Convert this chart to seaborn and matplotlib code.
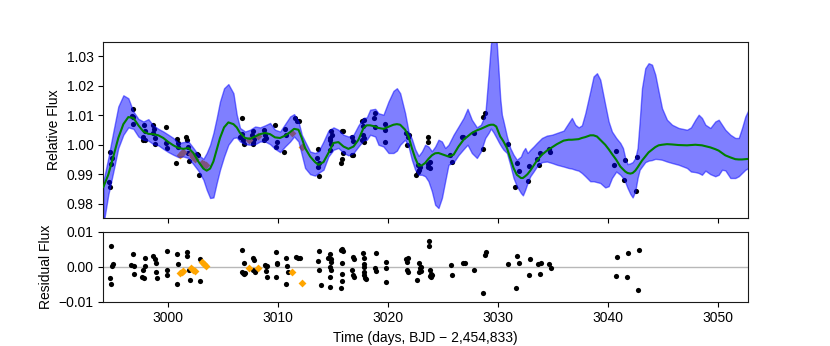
import numpy as np
import pandas as pd
import seaborn as sns
import matplotlib
matplotlib.use('Agg')
import matplotlib.pyplot as plt
from matplotlib.ticker import MultipleLocator

# GP model: time, mean and 1-sigma band
gp_time = [2994.15, 2994.60, 2995.06, 2995.51, 2995.97, 2996.42, 2996.88, 2997.33, 2997.79, 2998.24,
           2998.69, 2999.15, 2999.60, 3000.06, 3000.51, 3000.97, 3001.42, 3001.88, 3002.33, 3002.78,
           3003.24, 3003.54, 3003.85, 3004.15, 3004.45, 3004.75, 3005.12, 3005.51,
           3005.97, 3006.27, 3006.57, 3007.03, 3007.48, 3007.94, 3008.39, 3008.85, 3009.30, 3009.75,
           3010.21, 3010.66, 3011.12, 3011.48, 3011.88, 3012.18, 3012.48, 3012.94, 3013.39, 3013.69,
           3014.15, 3014.60, 3015.06, 3015.51, 3015.97, 3016.42, 3016.88, 3017.33,
           3017.79, 3018.09, 3018.39, 3018.85, 3019.15, 3019.60, 3020.06, 3020.51, 3020.82, 3021.12,
           3021.57, 3021.88, 3022.18, 3022.48, 3022.79, 3023.09, 3023.39, 3023.69, 3024.00, 3024.30,
           3024.60, 3024.91, 3025.21, 3025.51, 3025.97, 3026.42, 3026.88, 3027.24, 3027.63, 3028.09,
           3028.45, 3028.85, 3029.15,
           3029.36, 3029.60, 3029.85, 3030.06, 3030.21, 3030.36, 3030.51, 3030.82, 3031.12, 3031.42,
           3031.72, 3032.09, 3032.27, 3032.48, 3032.69, 3032.94, 3033.24, 3033.54, 3034.00, 3034.45,
           3034.91, 3035.36, 3035.97, 3036.42, 3036.72, 3037.03, 3037.33, 3037.63, 3037.94, 3038.39,
           3038.69, 3039.00, 3039.30, 3039.75, 3040.06, 3040.36, 3040.75, 3041.12,
           3041.36, 3041.57, 3041.78, 3042.03, 3042.24, 3042.48, 3042.69, 3042.88, 3043.09, 3043.39,
           3043.69, 3044.00, 3044.30, 3044.60, 3044.91, 3045.36, 3045.82, 3046.42, 3047.18, 3047.54,
           3047.94, 3048.24, 3048.54, 3048.85, 3049.30, 3049.75, 3050.06, 3050.36, 3050.66, 3051.12,
           3051.57, 3051.88, 3052.18, 3052.48, 3052.78]

gp_mean = [0.9856, 0.9898, 0.9960, 1.0023, 1.0070, 1.0094, 1.0091, 1.0066, 1.0045, 1.0037,
           1.0036, 1.0032, 1.0023, 1.0009, 0.9998, 0.9989, 0.9986, 0.9989, 0.9972, 0.9943,
           0.9919, 0.9912, 0.9919, 0.9943, 0.9983, 1.0023, 1.0059, 1.0076,
           1.0070, 1.0059, 1.0040, 1.0023, 1.0020, 1.0028, 1.0036, 1.0040, 1.0036, 1.0025,
           1.0023, 1.0031, 1.0043, 1.0054, 1.0051, 1.0023, 0.9989, 0.9960, 0.9941, 0.9932,
           0.9941, 0.9972, 1.0006, 1.0009, 0.9994, 0.9986, 0.9994, 1.0017,
           1.0057, 1.0066, 1.0066, 1.0062, 1.0057, 1.0054, 1.0061, 1.0068, 1.0070, 1.0068,
           1.0051, 1.0028, 0.9989, 0.9955, 0.9929, 0.9930, 0.9938, 0.9952, 0.9964, 0.9971,
           0.9972, 0.9968, 0.9964, 0.9960, 0.9966, 0.9994, 1.0017, 1.0028, 1.0040, 1.0049,
           1.0054, 1.0061, 1.0066,
           1.0068, 1.0068, 1.0062, 1.0042, 1.0028, 1.0020, 1.0011, 0.9989, 0.9955, 0.9921,
           0.9898, 0.9887, 0.9887, 0.9893, 0.9900, 0.9912, 0.9929, 0.9946, 0.9966, 0.9980,
           0.9991, 1.0002, 1.0014, 1.0017, 1.0017, 1.0018, 1.0019, 1.0023, 1.0026, 1.0032,
           1.0032, 1.0028, 1.0017, 1.0000, 0.9985, 0.9969, 0.9949, 0.9926,
           0.9917, 0.9909, 0.9904, 0.9902, 0.9904, 0.9912, 0.9923, 0.9934, 0.9946, 0.9960,
           0.9974, 0.9983, 0.9992, 0.9998, 1.0000, 1.0002, 1.0001, 0.9999, 0.9998, 0.9999,
           1.0000, 0.9999, 0.9998, 0.9995, 0.9991, 0.9985, 0.9980, 0.9972, 0.9964, 0.9957,
           0.9951, 0.9950, 0.9950, 0.9951, 0.9952]

gp_lo = [0.9728, 0.9830, 0.9909, 0.9989, 1.0034, 1.0059, 1.0054, 1.0028, 1.0017, 1.0014,
         1.0002, 0.9998, 0.9986, 0.9975, 0.9966, 0.9958, 0.9960, 0.9955, 0.9934, 0.9912,
         0.9881, 0.9847, 0.9819, 0.9821, 0.9870, 0.9915, 0.9960, 1.0000,
         1.0023, 1.0025, 1.0011, 1.0002, 1.0000, 1.0002, 1.0011, 1.0011, 1.0002, 0.9986,
         0.9975, 0.9994, 1.0011, 1.0028, 1.0011, 0.9966, 0.9921, 0.9900, 0.9895, 0.9904,
         0.9915, 0.9960, 0.9983, 0.9989, 0.9972, 0.9964, 0.9972, 0.9994,
         1.0015, 1.0017, 1.0034, 1.0028, 1.0000, 0.9994, 0.9972, 0.9972, 0.9980, 1.0000,
         1.0017, 0.9994, 0.9949, 0.9915, 0.9898, 0.9898, 0.9893, 0.9876, 0.9842, 0.9796,
         0.9785, 0.9819, 0.9876, 0.9932, 0.9940, 0.9965, 0.9985, 1.0000, 0.9972, 0.9955,
         0.9977, 1.0023, 1.0040,
         1.0055, 1.0042, 1.0025, 1.0010, 1.0000, 0.9991, 0.9983, 0.9972, 0.9932, 0.9887,
         0.9859, 0.9836, 0.9828, 0.9847, 0.9870, 0.9893, 0.9909, 0.9926, 0.9941, 0.9943,
         0.9938, 0.9932, 0.9926, 0.9921, 0.9919, 0.9915, 0.9912, 0.9904, 0.9893, 0.9876,
         0.9876, 0.9873, 0.9870, 0.9855, 0.9859, 0.9887, 0.9909, 0.9898,
         0.9887, 0.9873, 0.9853, 0.9833, 0.9821, 0.9842, 0.9887, 0.9915, 0.9926, 0.9941,
         0.9946, 0.9948, 0.9952, 0.9951, 0.9949, 0.9943, 0.9938, 0.9932, 0.9921, 0.9909,
         0.9907, 0.9904, 0.9898, 0.9912, 0.9900, 0.9893, 0.9898, 0.9915, 0.9913, 0.9887,
         0.9887, 0.9893, 0.9904, 0.9915, 0.9921]

gp_hi = [0.9876, 0.9955, 1.0045, 1.0130, 1.0168, 1.0158, 1.0113, 1.0088, 1.0079, 1.0087,
         1.0066, 1.0054, 1.0045, 1.0034, 1.0023, 1.0006, 1.0009, 1.0011, 0.9989, 0.9966,
         0.9952, 0.9972, 1.0000, 1.0040, 1.0091, 1.0147, 1.0192, 1.0206,
         1.0175, 1.0102, 1.0057, 1.0045, 1.0051, 1.0062, 1.0059, 1.0066, 1.0074, 1.0051,
         1.0045, 1.0070, 1.0096, 1.0104, 1.0079, 1.0034, 1.0011, 0.9977, 0.9972, 0.9977,
         1.0011, 1.0048, 1.0059, 1.0051, 1.0034, 1.0028, 1.0034, 1.0066,
         1.0091, 1.0093, 1.0119, 1.0122, 1.0107, 1.0102, 1.0147, 1.0183, 1.0192, 1.0175,
         1.0107, 1.0045, 1.0020, 0.9985, 0.9962, 0.9977, 1.0000, 0.9994, 0.9978, 0.9994,
         1.0017, 1.0011, 0.9989, 1.0000, 1.0034, 1.0062, 1.0091, 1.0122, 1.0085, 1.0059,
         1.0068, 1.0102, 1.0238,
         1.0340, 1.0400, 1.0370, 1.0250, 1.0158, 1.0102, 1.0079, 1.0028, 0.9989, 0.9966,
         0.9949, 0.9960, 0.9977, 0.9989, 0.9972, 0.9983, 0.9994, 1.0006, 1.0023, 1.0031,
         1.0034, 1.0040, 1.0048, 1.0074, 1.0091, 1.0068, 1.0059, 1.0066, 1.0107, 1.0181,
         1.0232, 1.0243, 1.0221, 1.0136, 1.0079, 1.0045, 1.0023, 1.0006,
         0.9989, 0.9955, 0.9934, 0.9937, 0.9941, 0.9955, 0.9989, 1.0079, 1.0192, 1.0260,
         1.0277, 1.0272, 1.0238, 1.0181, 1.0124, 1.0085, 1.0068, 1.0057, 1.0051, 1.0059,
         1.0085, 1.0102, 1.0091, 1.0068, 1.0057, 1.0079, 1.0085, 1.0068, 1.0051, 1.0034,
         1.0023, 1.0023, 1.0057, 1.0096, 1.0119]

# observed light curve (black) and masked flare points (orange)
obs_time = [2994.75, 2994.94, 2994.88, 2994.66, 2994.75,
            2996.88, 2996.72, 2996.85, 2996.88,
            2997.88, 2997.94, 2997.79, 2997.73, 2997.94,
            2998.69, 2998.75, 2998.63, 2998.85, 2998.85,
            2999.85, 2999.85, 2999.97,
            3000.82, 3000.91, 3000.91, 3000.76,
            3001.66, 3001.78, 3001.82, 3001.88, 3001.97,
            3002.63, 3002.78, 3002.88,
            3006.72, 3006.57, 3006.82, 3006.94, 3006.72,
            3007.72, 3007.63, 3007.85, 3007.72, 3007.79,
            3008.76, 3008.85, 3008.76, 3008.94,
            3009.75, 3009.85, 3009.97,
            3010.57, 3010.66, 3010.75,
            3011.57, 3011.79, 3011.97,
            3013.69, 3013.60, 3013.78, 3013.69, 3013.78,
            3014.82, 3014.91, 3014.76, 3014.85, 3014.76, 3014.70,
            3015.82, 3015.91, 3015.97, 3015.72, 3015.82,
            3016.73, 3016.82, 3016.82, 3016.73,
            3017.63, 3017.85, 3017.73, 3017.73, 3017.85, 3017.79, 3017.63,
            3018.85, 3018.76, 3018.85,
            3019.75, 3019.75, 3019.75,
            3021.66, 3021.79, 3021.88, 3021.72,
            3022.57, 3022.79, 3022.88, 3022.70, 3022.76,
            3023.69, 3023.63, 3023.79, 3023.69, 3023.79, 3023.69,
            3025.66, 3025.82,
            3026.72, 3026.82,
            3027.79,
            3028.63, 3028.69, 3028.85,
            3030.88, 3031.72, 3031.57, 3031.88, 3032.72, 3032.85,
            3033.54, 3033.69, 3033.85, 3034.60, 3034.75,
            3040.57, 3040.70, 3041.57, 3041.48, 3042.63, 3042.54]

obs_flux = [0.9974, 0.9955, 0.9934, 0.9872, 0.9856,
            1.0122, 1.0098, 1.0093, 1.0070,
            1.0066, 1.0045, 1.0028, 1.0017, 1.0017,
            1.0066, 1.0054, 1.0040, 1.0023, 1.0002,
            1.0061, 1.0006, 0.9989,
            1.0020, 1.0006, 0.9994, 0.9938,
            1.0025, 1.0017, 0.9991, 0.9972, 0.9946,
            0.9968, 0.9964, 0.9896,
            1.0091, 1.0025, 1.0017, 1.0002, 1.0036,
            1.0048, 1.0034, 1.0020, 1.0011, 1.0002,
            1.0051, 1.0034, 1.0017, 1.0023,
            1.0068, 0.9994, 1.0011,
            0.9977, 1.0054, 1.0034,
            1.0091, 1.0081, 1.0079,
            0.9985, 0.9955, 0.9938, 0.9926, 0.9893,
            1.0048, 1.0034, 1.0023, 1.0002, 0.9983, 1.0017,
            1.0048, 1.0045, 0.9972, 0.9938, 0.9952,
            1.0025, 1.0014, 0.9964, 0.9964,
            1.0081, 1.0085, 1.0062, 1.0034, 1.0023, 1.0011, 1.0017,
            1.0107, 1.0091, 1.0059,
            1.0070, 1.0051, 1.0011,
            1.0040, 1.0025, 1.0034, 1.0000,
            0.9898, 0.9915, 0.9926, 0.9909, 0.9932,
            1.0025, 1.0009, 0.9941, 0.9926, 0.9921, 0.9934,
            0.9966, 0.9941,
            1.0025, 1.0028,
            1.0040,
            0.9986, 1.0093, 1.0107,
            1.0002, 0.9937, 0.9855, 0.9912, 0.9876, 0.9929,
            0.9952, 0.9932, 0.9972, 0.9986, 0.9977,
            0.9932, 0.9980, 0.9947, 0.9881, 0.9960, 0.9843]

flare_time = [3001.12, 3001.27, 3001.42, 3002.09, 3002.27, 3002.45, 3003.15, 3003.30, 3003.48,
              3007.39, 3008.21, 3011.33, 3012.24]
flare_flux = [0.9966, 0.9972, 0.9977, 0.9968, 0.9960, 0.9952, 0.9938, 0.9934, 0.9932,
              1.0016, 1.0030, 1.0040, 0.9991]
flare_resid = [-0.0019, -0.0016, -0.0011, -0.0005, -0.0009, -0.0011, 0.0014, 0.0009, 0.0002,
               -0.0005, -0.0005, -0.0014, -0.0047]

# residuals of the black points
res_time = [2994.82, 2994.76, 2994.82, 2995.06, 2994.97,
            2996.85, 2996.70, 2996.94, 2996.94,
            2997.91, 2997.91, 2997.79, 2997.70, 2997.85,
            2998.70, 2998.82, 2998.94, 2998.94, 2999.00,
            2999.91, 2999.97, 2999.97,
            3000.82, 3000.94, 3000.82,
            3001.73, 3001.79, 3001.91, 3002.03,
            3002.94, 3002.94,
            3006.73, 3006.73, 3006.82, 3006.94, 3007.00, 3006.94,
            3007.76, 3007.85, 3007.76, 3007.94,
            3008.82, 3008.94, 3009.06, 3008.91, 3009.06,
            3009.82, 3009.91, 3009.97, 3009.82,
            3010.73, 3010.82, 3010.73, 3010.94,
            3011.67, 3011.85, 3012.00,
            3013.79, 3013.67, 3013.76, 3013.91,
            3014.58, 3014.70, 3014.82, 3014.88, 3014.70, 3014.82, 3014.76, 3014.76,
            3015.73, 3015.88, 3015.97, 3015.88, 3015.88, 3015.88, 3015.73,
            3016.79, 3016.88, 3016.73, 3016.85, 3016.88,
            3017.70, 3017.85, 3017.85, 3017.85, 3017.79, 3017.79, 3017.91, 3018.00,
            3018.91, 3018.85, 3018.91,
            3019.82, 3019.82, 3019.82,
            3021.67, 3021.76, 3021.70, 3021.82, 3021.85,
            3022.67, 3022.79, 3022.88, 3022.97, 3022.79, 3022.97,
            3023.70, 3023.70, 3023.79, 3023.88, 3023.79, 3024.00, 3023.94,
            3025.70, 3025.85, 3026.79, 3026.97, 3027.82,
            3028.64, 3028.79, 3028.88,
            3030.91, 3031.67, 3031.76, 3031.91,
            3032.79, 3032.91, 3033.64, 3033.79, 3033.94, 3034.67, 3034.79,
            3040.70, 3040.79, 3041.70, 3041.79, 3042.70, 3042.79]

res_flux = [0.0059, -0.0033, -0.0050, 0.0009, 0.0002,
            0.0035, 0.0005, 0.0003, -0.0021,
            0.0026, 0.0003, -0.0009, -0.0030, -0.0033,
            0.0030, 0.0021, 0.0012, -0.0014, -0.0031,
            0.0044, -0.0008, -0.0024,
            0.0036, 0.0009, -0.0049,
            0.0041, 0.0031, -0.0009, -0.0038,
            0.0021, -0.0042,
            0.0049, -0.0014, -0.0019, -0.0022, -0.0017, 0.0011,
            0.0026, 0.0019, -0.0009, -0.0014,
            0.0005, 0.0003, 0.0003, -0.0011, -0.0028,
            0.0042, 0.0012, 0.0008, -0.0030,
            0.0026, 0.0003, -0.0049, -0.0014,
            0.0028, 0.0026, 0.0026,
            0.0045, 0.0017, -0.0009, -0.0052,
            0.0026, 0.0035, 0.0021, 0.0014, -0.0002, -0.0008, -0.0030, -0.0057,
            0.0047, 0.0052, 0.0045, 0.0011, -0.0021, -0.0042, -0.0061,
            0.0028, 0.0023, -0.0008, -0.0025, -0.0030,
            0.0038, 0.0026, 0.0009, 0.0000, -0.0014, -0.0024, -0.0033, -0.0036,
            0.0040, -0.0003, -0.0011,
            0.0014, -0.0003, -0.0043,
            0.0021, 0.0014, -0.0008, -0.0014, 0.0026,
            -0.0038, 0.0011, -0.0005, -0.0011, -0.0014, 0.0000,
            0.0074, 0.0059, -0.0008, -0.0021, -0.0026, -0.0024, -0.0030,
            0.0005, -0.0024, 0.0012, 0.0011, -0.0008,
            -0.0074, 0.0033, 0.0042,
            0.0009, -0.0061, 0.0030, 0.0011,
            -0.0024, 0.0023, 0.0007, -0.0022, 0.0012, 0.0008, -0.0005,
            -0.0026, 0.0028, -0.0028, 0.0040, -0.0066, 0.0047]

gp = pd.DataFrame({'time': gp_time, 'mean': gp_mean, 'lo': gp_lo, 'hi': gp_hi})
obs = pd.DataFrame({'time': obs_time, 'flux': obs_flux})
flare = pd.DataFrame({'time': flare_time, 'flux': flare_flux, 'resid': flare_resid})
res = pd.DataFrame({'time': res_time, 'resid': res_flux})

sns.set_style('ticks')
plt.rcParams['font.family'] = ['Liberation Sans', 'DejaVu Sans']
plt.rcParams['font.size'] = 10
plt.rcParams['text.color'] = 'black'
plt.rcParams['axes.labelcolor'] = 'black'
plt.rcParams['xtick.color'] = 'black'
plt.rcParams['ytick.color'] = 'black'
plt.rcParams['axes.edgecolor'] = '0.1'

fig = plt.figure(figsize=(8.3, 3.46), dpi=100)
ax1 = fig.add_axes([0.1245, 0.369, 0.7764, 0.5104])
ax2 = fig.add_axes([0.1245, 0.128, 0.7764, 0.2023], sharex=ax1)

# top: data, GP band, GP mean
sns.scatterplot(data=obs, x='time', y='flux', color='k', s=14, linewidth=0, ax=ax1, zorder=1)
sns.scatterplot(data=flare, x='time', y='flux', color='orange', marker='D', s=16,
                linewidth=0, ax=ax1, zorder=1)
ax1.fill_between(gp['time'], gp['lo'], gp['hi'], color='blue', alpha=0.5, zorder=2)
sns.lineplot(data=gp, x='time', y='mean', color='green', lw=1.5, ax=ax1, zorder=3)

ax1.set_xlim(2994.15, 3052.7)
ax1.set_ylim(0.975, 1.035)
ax1.yaxis.set_major_locator(MultipleLocator(0.01))
ax1.set_ylabel('Relative Flux')
ax1.set_xlabel('')
ax1.tick_params(labelbottom=False)

# bottom: residuals
ax2.axhline(0, color='0.72', lw=1, zorder=0)
sns.scatterplot(data=res, x='time', y='resid', color='k', s=14, linewidth=0, ax=ax2, zorder=2)
sns.scatterplot(data=flare, x='time', y='resid', color='orange', marker='D', s=16,
                linewidth=0, ax=ax2, zorder=3)
ax2.set_ylim(-0.01, 0.01)
ax2.set_yticks([-0.01, 0.0, 0.01])
ax2.xaxis.set_major_locator(MultipleLocator(10))
ax2.set_ylabel('Residual Flux')
ax2.set_xlabel('Time (days, BJD \u2212 2,454,833)')

fig.savefig('out.png', dpi=100)
